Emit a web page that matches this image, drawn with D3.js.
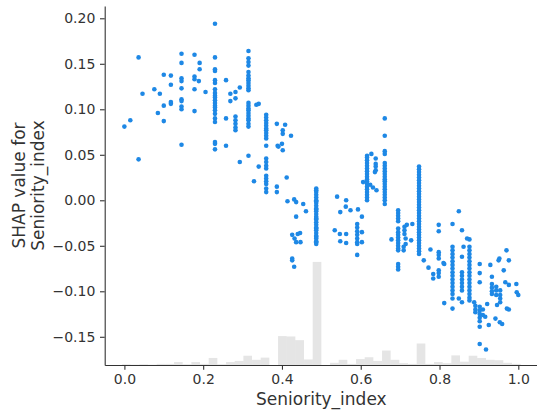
<!DOCTYPE html>
<html>
<head>
<meta charset="utf-8">
<script src="https://cdn.jsdelivr.net/npm/d3@7"></script>
<style>
  html, body { margin: 0; padding: 0; background: #fff; }
  svg { display: block; font-family: "DejaVu Sans", sans-serif; }
</style>
</head>
<body>
<div id="chart"></div>
<script>
// [seniority_index, shap value] pairs
const earlyPoints = [
  [0.000, 0.081], [0.015, 0.088], [0.036, 0.157], [0.036, 0.045], [0.046, 0.117],
  [0.076, 0.122], [0.085, 0.096], [0.090, 0.117], [0.100, 0.138], [0.100, 0.104], [0.100, 0.087],
  [0.118, 0.137], [0.118, 0.127], [0.118, 0.108], [0.118, 0.106],
  [0.145, 0.161], [0.145, 0.151], [0.145, 0.134], [0.145, 0.131], [0.145, 0.123], [0.145, 0.111],
  [0.145, 0.109], [0.145, 0.103], [0.145, 0.100], [0.145, 0.061],
  [0.178, 0.160], [0.178, 0.136], [0.178, 0.133], [0.178, 0.122], [0.178, 0.098],
  [0.191, 0.151], [0.191, 0.144], [0.189, 0.131], [0.206, 0.119],
  [0.230, 0.194], [0.230, 0.157], [0.230, 0.144], [0.230, 0.142], [0.230, 0.132], [0.230, 0.129],
  [0.230, 0.122], [0.230, 0.118], [0.230, 0.115], [0.230, 0.113], [0.230, 0.110], [0.230, 0.107],
  [0.230, 0.104], [0.230, 0.102], [0.230, 0.099], [0.230, 0.095], [0.230, 0.090], [0.230, 0.086],
  [0.230, 0.064], [0.230, 0.062], [0.230, 0.056],
  [0.258, 0.132], [0.258, 0.090], [0.258, 0.060], [0.269, 0.117], [0.269, 0.109],
  [0.282, 0.119], [0.282, 0.112], [0.282, 0.092], [0.282, 0.088], [0.282, 0.084], [0.282, 0.080],
  [0.282, 0.077], [0.293, 0.124], [0.293, 0.042],
  [0.315, 0.164], [0.315, 0.156], [0.315, 0.152], [0.315, 0.148], [0.315, 0.141], [0.315, 0.137],
  [0.315, 0.134], [0.315, 0.132], [0.315, 0.129], [0.315, 0.126], [0.315, 0.123], [0.315, 0.121],
  [0.315, 0.107], [0.315, 0.104], [0.315, 0.101], [0.315, 0.099], [0.315, 0.096], [0.315, 0.093],
  [0.315, 0.090], [0.315, 0.088], [0.315, 0.084], [0.315, 0.081], [0.315, 0.049],
  [0.335, 0.105], [0.341, 0.106], [0.341, 0.037], [0.329, 0.021],
  [0.360, 0.094], [0.360, 0.091], [0.360, 0.088], [0.360, 0.085], [0.360, 0.082], [0.360, 0.079],
  [0.360, 0.077], [0.360, 0.074], [0.360, 0.071], [0.360, 0.068], [0.360, 0.060], [0.360, 0.046],
  [0.360, 0.042], [0.360, 0.038], [0.360, 0.035], [0.360, 0.027], [0.360, 0.024], [0.360, 0.021],
  [0.360, 0.018], [0.360, 0.013], [0.360, 0.009],
  [0.387, 0.084], [0.389, 0.060], [0.387, 0.015], [0.387, 0.009]
];

const midPoints = [
  [0.408, 0.083], [0.402, 0.077], [0.402, 0.073], [0.423, 0.071], [0.391, 0.059], [0.400, 0.062],
  [0.402, 0.055], [0.412, 0.025],
  [0.414, -0.001], [0.431, 0.001], [0.436, -0.002], [0.454, -0.004], [0.461, -0.012], [0.436, -0.018],
  [0.426, -0.038], [0.432, -0.042], [0.436, -0.046], [0.440, -0.037], [0.446, -0.036], [0.447, -0.046],
  [0.426, -0.064], [0.426, -0.066], [0.431, -0.073],
  [0.487, 0.013], [0.487, 0.011], [0.487, 0.009], [0.487, 0.006], [0.487, 0.003], [0.487, 0.000],
  [0.487, -0.001], [0.487, -0.003], [0.487, -0.006], [0.487, -0.009], [0.487, -0.010], [0.487, -0.012],
  [0.487, -0.015], [0.487, -0.018], [0.487, -0.020], [0.487, -0.021], [0.487, -0.024], [0.487, -0.027],
  [0.487, -0.030], [0.487, -0.031], [0.487, -0.033], [0.487, -0.036], [0.487, -0.039], [0.487, -0.040],
  [0.487, -0.042], [0.487, -0.045], [0.487, -0.046], [0.487, -0.048],
  [0.540, 0.004], [0.548, -0.013], [0.563, 0.000], [0.562, -0.007], [0.574, -0.011], [0.593, -0.010],
  [0.603, -0.018], [0.534, -0.033], [0.547, -0.037], [0.548, -0.045], [0.563, -0.037], [0.563, -0.047],
  [0.591, -0.026], [0.591, -0.030], [0.591, -0.034], [0.591, -0.038], [0.591, -0.042], [0.591, -0.046],
  [0.591, -0.048], [0.603, -0.035], [0.603, -0.046], [0.591, -0.060],
  [0.616, 0.049], [0.616, 0.047], [0.616, 0.044], [0.616, 0.041], [0.616, 0.038], [0.616, 0.035],
  [0.616, 0.032], [0.616, 0.029], [0.616, 0.026], [0.616, 0.023], [0.616, 0.021], [0.616, 0.018],
  [0.616, 0.015], [0.616, 0.012], [0.616, 0.009], [0.616, 0.006], [0.616, 0.003], [0.616, 0.000],
  [0.627, 0.051], [0.638, 0.046], [0.638, 0.040], [0.638, 0.037], [0.638, 0.033], [0.636, 0.031],
  [0.624, 0.017], [0.631, 0.014], [0.640, 0.011], [0.606, 0.020],
  [0.661, 0.090], [0.661, 0.071], [0.661, 0.054], [0.661, 0.051], [0.661, 0.041], [0.661, 0.038],
  [0.661, 0.035], [0.661, 0.032], [0.661, 0.029], [0.661, 0.026], [0.661, 0.023], [0.661, 0.021],
  [0.661, 0.018], [0.661, 0.015], [0.661, 0.012], [0.661, 0.009], [0.661, 0.006], [0.661, 0.003],
  [0.661, 0.000], [0.661, -0.004],
  [0.695, -0.011], [0.695, -0.014], [0.695, -0.017], [0.695, -0.020], [0.695, -0.023], [0.695, -0.031],
  [0.695, -0.035], [0.695, -0.038], [0.695, -0.041], [0.695, -0.044], [0.695, -0.047], [0.695, -0.050],
  [0.695, -0.053], [0.695, -0.055], [0.695, -0.070], [0.695, -0.073], [0.695, -0.076], [0.678, -0.043]
];

const latePoints = [
  [0.711, -0.029], [0.711, -0.033], [0.711, -0.037], [0.717, -0.027], [0.731, -0.026], [0.714, -0.042],
  [0.714, -0.048], [0.728, -0.044], [0.709, -0.051], [0.709, -0.055],
  [0.748, 0.037], [0.748, 0.034], [0.748, 0.031], [0.748, 0.028], [0.748, 0.025], [0.748, 0.022],
  [0.748, 0.019], [0.748, 0.016], [0.748, 0.013], [0.748, 0.010], [0.748, 0.007], [0.748, 0.004],
  [0.748, 0.001], [0.748, -0.002], [0.748, -0.005], [0.748, -0.008], [0.748, -0.011], [0.748, -0.014],
  [0.748, -0.017], [0.748, -0.020], [0.748, -0.023], [0.748, -0.026], [0.748, -0.029], [0.748, -0.032],
  [0.748, -0.035], [0.748, -0.038], [0.748, -0.041], [0.748, -0.044], [0.748, -0.047], [0.748, -0.050],
  [0.748, -0.053], [0.748, -0.056], [0.748, -0.059], [0.760, -0.066],
  [0.849, -0.012], [0.798, -0.027], [0.798, -0.034], [0.833, -0.026], [0.857, -0.033], [0.870, -0.042],
  [0.876, -0.043], [0.777, -0.054], [0.798, -0.057], [0.798, -0.060], [0.798, -0.064], [0.772, -0.074],
  [0.784, -0.081], [0.784, -0.086], [0.798, -0.077], [0.798, -0.080], [0.798, -0.084], [0.812, -0.070],
  [0.810, -0.069],
  [0.833, -0.051], [0.833, -0.055], [0.833, -0.059], [0.833, -0.063], [0.833, -0.067], [0.833, -0.071],
  [0.833, -0.075], [0.833, -0.079], [0.833, -0.083], [0.833, -0.087], [0.833, -0.091], [0.833, -0.095],
  [0.833, -0.099], [0.833, -0.103], [0.833, -0.108], [0.833, -0.119], [0.812, -0.113],
  [0.857, -0.062], [0.857, -0.079], [0.857, -0.083], [0.857, -0.087], [0.857, -0.091], [0.857, -0.095],
  [0.857, -0.099], [0.849, -0.108], [0.857, -0.112], [0.861, -0.051],
  [0.876, -0.051], [0.876, -0.055], [0.876, -0.059], [0.876, -0.063], [0.876, -0.067], [0.876, -0.071],
  [0.876, -0.075], [0.876, -0.079], [0.876, -0.083], [0.876, -0.087], [0.876, -0.091], [0.876, -0.095],
  [0.876, -0.099], [0.876, -0.103], [0.876, -0.107], [0.876, -0.110],
  [0.902, -0.070], [0.902, -0.080], [0.902, -0.090], [0.888, -0.112],
  [0.891, -0.116], [0.891, -0.120], [0.891, -0.123],
  [0.902, -0.117], [0.902, -0.121], [0.902, -0.125], [0.902, -0.129], [0.902, -0.133], [0.902, -0.139],
  [0.910, -0.120], [0.910, -0.126], [0.921, -0.114], [0.916, -0.128], [0.925, -0.137],
  [0.902, -0.158], [0.918, -0.164],
  [0.929, -0.071], [0.933, -0.084], [0.933, -0.092], [0.933, -0.096], [0.933, -0.100], [0.933, -0.103],
  [0.944, -0.095], [0.944, -0.099], [0.944, -0.104], [0.954, -0.099], [0.954, -0.104], [0.954, -0.108],
  [0.954, -0.112], [0.950, -0.066], [0.952, -0.064], [0.963, -0.077], [0.946, -0.115], [0.942, -0.130],
  [0.953, -0.134], [0.959, -0.136],
  [0.970, -0.055], [0.976, -0.066], [0.967, -0.090], [0.976, -0.093], [0.995, -0.092], [0.996, -0.101],
  [1.000, -0.104], [0.976, -0.120], [0.971, -0.119]
];

// histogram of seniority_index, 50 bins over the x-axis limits
const histCounts = [
  0, 0, 2, 1, 2, 1, 3, 3, 8, 2,
  8, 3, 19, 2, 8, 11, 25, 14, 20, 0,
  78, 77, 67, 15, 278, 0, 6, 14, 3, 16,
  21, 11, 39, 14, 5, 3, 58, 3, 8, 5,
  26, 9, 25, 19, 14, 13, 6, 3, 0, 0
];

const xTicks = [0, 0.2, 0.4, 0.6, 0.8, 1.0];
const yTicks = [-0.15, -0.10, -0.05, 0.00, 0.05, 0.10, 0.15, 0.20];
const xLimits = [-0.05, 1.05];
const yLimits = [-0.181, 0.2135];

const W = 537, H = 414;
const mLeft = 104.7, mTop = 6, mBottom = 365, mRight = 538;
const axisColor = '#333333';

const svg = d3.select('#chart').append('svg')
  .attr('width', W).attr('height', H);

const x = d3.scaleLinear().domain(xLimits).range([mLeft, mRight]);
const y = d3.scaleLinear().domain(yLimits).range([mBottom, mTop]);

// histogram (twin axis, 0..N)
const nTotal = d3.sum(histCounts);
const yHist = d3.scaleLinear().domain([0, nTotal]).range([mBottom, mTop]);
const binW = (xLimits[1] - xLimits[0]) / histCounts.length;

svg.append('g')
  .selectAll('rect')
  .data(histCounts)
  .join('rect')
  .attr('x', (d, i) => x(xLimits[0] + i * binW))
  .attr('width', x(xLimits[0] + binW) - x(xLimits[0]))
  .attr('y', d => yHist(d))
  .attr('height', d => mBottom - yHist(d))
  .attr('fill', '#000')
  .attr('fill-opacity', 0.1);

// dots
const allPoints = earlyPoints.concat(midPoints, latePoints);
svg.append('g')
  .selectAll('circle')
  .data(allPoints)
  .join('circle')
  .attr('cx', d => x(d[0]))
  .attr('cy', d => y(d[1]))
  .attr('r', 2.3)
  .attr('fill', '#1E88E5');

// axes
const xAxis = d3.axisBottom(x)
  .tickValues(xTicks)
  .tickFormat(d3.format('.1f'))
  .tickSize(4.7)
  .tickSizeOuter(0)
  .tickPadding(4.7);

const yAxis = d3.axisLeft(y)
  .tickValues(yTicks)
  .tickFormat(d3.format('.2f'))
  .tickSize(4.7)
  .tickSizeOuter(0)
  .tickPadding(4.7);

const gx = svg.append('g')
  .attr('transform', `translate(0,${mBottom})`)
  .call(xAxis);
const gy = svg.append('g')
  .attr('transform', `translate(${mLeft},0)`)
  .call(yAxis);

[gx, gy].forEach(g => {
  g.select('.domain').attr('stroke', axisColor).attr('stroke-width', 1.1);
  g.selectAll('.tick line').attr('stroke', axisColor).attr('stroke-width', 1.1);
  g.selectAll('.tick text')
    .attr('fill', axisColor)
    .style('font-size', '14px')
    .style('font-family', '"DejaVu Sans", sans-serif');
});

// labels
svg.append('text')
  .attr('x', (mLeft + mRight) / 2)
  .attr('y', 405)
  .attr('text-anchor', 'middle')
  .attr('fill', axisColor)
  .style('font-size', '17px')
  .text('Seniority_index');

const yl = svg.append('text')
  .attr('transform', `translate(25,${(mTop + mBottom) / 2}) rotate(-90)`)
  .attr('text-anchor', 'middle')
  .attr('fill', axisColor)
  .style('font-size', '17px');
yl.append('tspan').attr('x', 0).attr('dy', 0).text('SHAP value for');
yl.append('tspan').attr('x', 0).attr('dy', '1.12em').text('Seniority_index');
</script>
</body>
</html>
